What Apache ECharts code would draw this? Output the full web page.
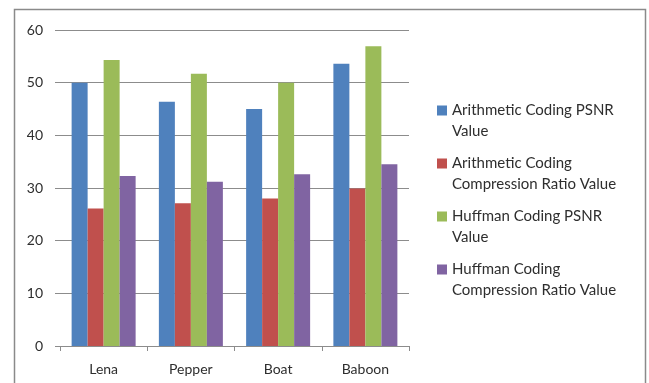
<!DOCTYPE html>
<html>
<head>
<meta charset="utf-8">
<script src="https://cdn.jsdelivr.net/npm/echarts@6/dist/echarts.min.js"></script>
<style>
  html, body { margin: 0; padding: 0; background: #fff; }
  #chart { width: 649px; height: 383px; }
</style>
</head>
<body>
<div id="chart"></div>
<script>
// Test images on the x axis
const categories = ['Lena', 'Pepper', 'Boat', 'Baboon'];

// Measured values per image
const arithmeticPsnr = [50.0, 46.4, 45.0, 53.6];
const arithmeticRatio = [26.1, 27.1, 28.0, 29.9];
const huffmanPsnr = [54.3, 51.7, 50.0, 56.9];
const huffmanRatio = [32.3, 31.2, 32.6, 34.5];

// Value axis ticks
const yTicks = [0, 10, 20, 30, 40, 50, 60];

const seriesNames = [
  'Arithmetic Coding PSNR Value',
  'Arithmetic Coding Compression Ratio Value',
  'Huffman Coding PSNR Value',
  'Huffman Coding Compression Ratio Value'
];
// Two-line legend captions
const legendCaptions = {
  'Arithmetic Coding PSNR Value': 'Arithmetic Coding PSNR\nValue',
  'Arithmetic Coding Compression Ratio Value': 'Arithmetic Coding\nCompression Ratio Value',
  'Huffman Coding PSNR Value': 'Huffman Coding PSNR\nValue',
  'Huffman Coding Compression Ratio Value': 'Huffman Coding\nCompression Ratio Value'
};
const colors = ['#4F81BD', '#C0504D', '#9BBB59', '#8064A2'];
const seriesData = [arithmeticPsnr, arithmeticRatio, huffmanPsnr, huffmanRatio];

const font = 'Lato, "Open Sans", sans-serif';
const gridColor = '#8c8c8c';
const textColor = '#2e2e2e';

// Legend marker: small square aligned with the first caption line
const legendIcon = 'path://M0,5.5H10V15.5H0Z M0,0H0.01V0.01H0Z M9.99,41.99H10V42H9.99Z';

const chart = echarts.init(document.getElementById('chart'), null, { renderer: 'canvas' });

chart.setOption({
  animation: false,
  color: colors,
  textStyle: { fontFamily: font },
  grid: { left: 60, right: 240, top: 30, bottom: 37, containLabel: false },
  graphic: [{
    type: 'rect',
    shape: { x: 14.5, y: 9.5, width: 631, height: 420 },
    style: { fill: 'none', stroke: '#8a8a8a', lineWidth: 1.5 },
    silent: true
  }],
  legend: {
    orient: 'vertical',
    left: 432,
    top: 95,
    itemWidth: 10,
    itemHeight: 42,
    itemGap: 11,
    icon: legendIcon,
    data: seriesNames,
    formatter: name => legendCaptions[name],
    textStyle: { fontFamily: font, fontSize: 15, color: textColor, lineHeight: 21 }
  },
  xAxis: {
    type: 'category',
    data: categories,
    axisLine: { show: true, lineStyle: { color: gridColor, width: 1 } },
    axisTick: { show: true, length: 5, interval: 0, lineStyle: { color: gridColor } },
    axisLabel: { margin: 16, fontSize: 14, color: textColor, fontFamily: font }
  },
  yAxis: {
    type: 'value',
    min: yTicks[0],
    max: yTicks[yTicks.length - 1],
    interval: 10,
    axisLine: { show: false },
    axisTick: { show: true, length: 5, lineStyle: { color: gridColor } },
    splitLine: { show: true, lineStyle: { color: gridColor, width: 1 } },
    axisLabel: { margin: 17, fontSize: 14, color: textColor, fontFamily: font }
  },
  series: seriesNames.map((name, i) => ({
    name: name,
    type: 'bar',
    data: seriesData[i],
    barWidth: 16,
    barGap: '0%',
    itemStyle: { color: colors[i] }
  }))
});
</script>
</body>
</html>
